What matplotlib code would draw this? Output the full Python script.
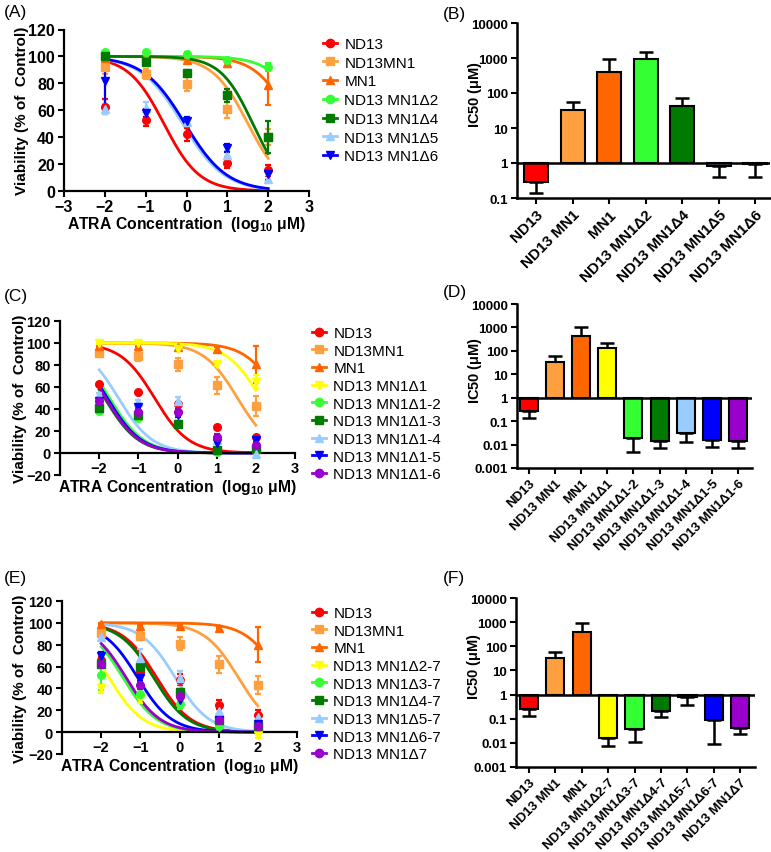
import matplotlib
matplotlib.use("Agg")
import matplotlib.pyplot as plt
from matplotlib.lines import Line2D
import numpy as np

plt.rcParams['font.family'] = ['Liberation Sans', 'DejaVu Sans']
plt.rcParams['mathtext.fontset'] = 'custom'
plt.rcParams['mathtext.rm'] = 'Liberation Sans'
plt.rcParams['mathtext.bf'] = 'Liberation Sans:bold'

W, H = 771, 853

# log10 of ATRA concentration (uM)
conc_log = [-2, -1, 0, 1, 2]

RED = '#FF0000'
LORANGE = '#FFA040'
ORANGE = '#FF6600'
LIME = '#33FF33'
DGREEN = '#007A00'
LBLUE = '#99CCFF'
BLUE = '#0000FF'
YELLOW = '#FFFF00'
PURPLE = '#9900CC'

# ---- panel A / B ----
a_legend = ['ND13', 'ND13MN1', 'MN1', 'ND13 MN1Δ2', 'ND13 MN1Δ4', 'ND13 MN1Δ5', 'ND13 MN1Δ6']
b_labels = ['ND13', 'ND13 MN1', 'MN1', 'ND13 MN1Δ2', 'ND13 MN1Δ4', 'ND13 MN1Δ5', 'ND13 MN1Δ6']
a_colors = [RED, LORANGE, ORANGE, LIME, DGREEN, LBLUE, BLUE]
a_markers = ['o', 's', '^', 'o', 's', '^', 'v']
b_ic50 = [0.28, 32, 394, 920, 42, 0.80, 0.92]
b_err_end = [0.138, 56, 910, 1510, 71, 0.40, 0.41]
a_hill = [1, 1, 1, 1, 1.1, 0.85, 0.85]
a_mean = [[62.5, 53, 42, 21, 15.5],
          [92, 87, 79.5, 61, 40],
          [99, 99, 97, 95, 79],
          [103, 103, 102, 97, 92],
          [100, 95.5, 88, 71, 40],
          [61, 62, 51, 27, 9],
          [82, 58, 52, 32, 12.5]]
a_sem = [[5.5, 5, 4.5, 4, 4],
         [5, 4, 5, 7, 6],
         [2, 1, 2, 3, 15],
         [1, 1, 1, 2, 3],
         [1, 2, 2, 5, 12],
         [4, 4, 3, 3, 3],
         [18, 3, 3, 3, 4]]

# ---- panel C / D ----
c_legend = ['ND13', 'ND13MN1', 'MN1', 'ND13 MN1Δ1', 'ND13 MN1Δ1-2', 'ND13 MN1Δ1-3',
            'ND13 MN1Δ1-4', 'ND13 MN1Δ1-5', 'ND13 MN1Δ1-6']
d_labels = ['ND13', 'ND13 MN1', 'MN1', 'ND13 MN1Δ1', 'ND13 MN1Δ1-2', 'ND13 MN1Δ1-3',
            'ND13 MN1Δ1-4', 'ND13 MN1Δ1-5', 'ND13 MN1Δ1-6']
c_colors = [RED, LORANGE, ORANGE, YELLOW, LIME, DGREEN, LBLUE, BLUE, PURPLE]
c_markers = ['o', 's', '^', 'v', 'o', 's', '^', 'v', 'o']
d_ic50 = [0.26, 34, 413, 132, 0.0184, 0.0137, 0.031, 0.0161, 0.0146]
d_err_end = [0.13, 62, 1000, 209, 0.005, 0.0069, 0.0124, 0.0076, 0.0074]
c_hill = [1, 1, 1, 1, 1, 1, 1, 1, 1]
c_mean = [[62.5, 55.5, 45, 23.4, 14.4],
          [91, 88, 80.5, 61.5, 43],
          [97, 97, 96, 94.6, 80.5],
          [100, 100, 94.6, 81, 65],
          [38.4, 32, 26, 1, 4],
          [41, 35, 26.4, 2.4, 4],
          [53, 46, 47, 11.4, -0.6],
          [47, 42, 35, 9, 12],
          [47, 37.5, 37, 14.4, 7]]
c_sem = [[1, 1, 1, 1, 1],
         [3, 4, 6, 8, 9],
         [1, 1, 1, 2, 16.5],
         [1, 1, 2, 2, 6],
         [2, 2, 2, 1, 1],
         [2, 2, 3, 1, 1],
         [2, 2, 4, 2, 1],
         [2, 2, 2, 4, 2],
         [3, 3, 3, 3, 2]]

# ---- panel E / F ----
e_legend = ['ND13', 'ND13MN1', 'MN1', 'ND13 MN1Δ2-7', 'ND13 MN1Δ3-7', 'ND13 MN1Δ4-7',
            'ND13 MN1Δ5-7', 'ND13 MN1Δ6-7', 'ND13 MN1Δ7']
f_labels = ['ND13', 'ND13 MN1', 'MN1', 'ND13 MN1Δ2-7', 'ND13 MN1Δ3-7', 'ND13 MN1Δ4-7',
            'ND13 MN1Δ5-7', 'ND13 MN1Δ6-7', 'ND13 MN1Δ7']
e_colors = [RED, LORANGE, ORANGE, YELLOW, LIME, DGREEN, LBLUE, BLUE, PURPLE]
e_markers = ['o', 's', '^', 'v', 'o', 's', '^', 'v', 'o']
f_ic50 = [0.26, 31.7, 377, 0.0158, 0.0358, 0.218, 0.776, 0.085, 0.043]
f_err_end = [0.135, 56, 914, 0.0071, 0.0107, 0.123, 0.386, 0.0086, 0.0237]
e_hill = [1, 1, 1, 1, 1, 1, 1, 1, 1]
e_mean = [[66, 55, 48, 25, 16],
          [91, 88, 81, 62, 43],
          [99, 97, 97, 95, 80],
          [40, 30, 28, 5, -3],
          [52, 35, 26, 6, 4.5],
          [62.5, 60, 36.6, 10.7, 6],
          [87, 68, 50, 19, 14],
          [70, 50, 29, 11, 7.6],
          [62.5, 42.7, 33.5, 11.3, 6]]
e_sem = [[3, 3, 5, 4, 4],
         [3, 4, 6, 8, 8],
         [1, 1, 1, 1, 16],
         [4, 3, 3, 2, 2],
         [13, 5, 5, 3, 2],
         [3, 4, 3, 3, 2],
         [3, 8, 6, 5, 3],
         [3, 3, 3, 3, 2],
         [3, 3, 3, 3, 2]]


def px_rect(l, t, r, b):
    return [l / W, 1 - b / H, (r - l) / W, (b - t) / H]


def dose_panel(fig, rect, means, sems, ic50, hill, colors, markers, legend, leg_xy,
               ymin, xticks, ylab_x, xlab_y, leg_spacing, xpad, tsize):
    ax = fig.add_axes(rect)
    xs = np.linspace(-2, 2, 200)
    for m, s, ic, h, c, mk in zip(means, sems, ic50, hill, colors, markers):
        ax.plot(xs, 100 / (1 + 10 ** ((xs - np.log10(ic)) * h)), color=c, lw=2, zorder=2)
        ax.errorbar(conc_log, m, yerr=s, fmt=mk, color=c, ms=5.5, capsize=2.5,
                    elinewidth=1.6, capthick=1.6, zorder=3)
    ax.set_xlim(-3, 3)
    ax.set_ylim(ymin, 120)
    for sp in ['top', 'right']:
        ax.spines[sp].set_visible(False)
    ax.spines['bottom'].set_position(('data', 0))
    for sp in ['left', 'bottom']:
        ax.spines[sp].set_linewidth(1.6)
    ax.set_xticks(xticks)
    ax.set_yticks(range(ymin, 121, 20))
    ax.tick_params(width=1.5, length=4, labelsize=tsize, pad=2.5)
    ax.tick_params(axis='x', pad=xpad)
    for t in ax.get_xticklabels() + ax.get_yticklabels():
        t.set_fontweight('bold')
    ax.set_ylabel('Viability (% of  Control)', fontsize=11, fontweight='bold')
    ax.yaxis.set_label_coords(ylab_x, 0.5)
    ax.set_xlabel(r'ATRA Concentration  (log$_{\bf 10}$ $\bf\mu$M)', fontsize=11.3, fontweight='bold')
    ax.xaxis.set_label_coords(0.5, xlab_y)
    handles = [Line2D([0], [0], color=c, marker=mk, ms=6, lw=2) for c, mk in zip(colors, markers)]
    fig.legend(handles, legend, loc='upper left', bbox_to_anchor=(leg_xy[0] / W, 1 - leg_xy[1] / H),
               frameon=False, fontsize=11, handlelength=0.9, handletextpad=0.5,
               labelspacing=leg_spacing, borderpad=0, borderaxespad=0)
    return ax


def bar_panel(fig, rect, values, err_end, colors, labels, ymin, xlim, width, ylab_x, xsize):
    ax = fig.add_axes(rect)
    ax.set_yscale('log')
    xs = np.arange(len(values))
    for i, (v, e, c) in enumerate(zip(values, err_end, colors)):
        if v >= 1:
            yerr = [[0], [e - v]]
        else:
            yerr = [[v - e], [0]]
        ax.errorbar(i, v, yerr=yerr, color='k', capsize=5, elinewidth=1.8, capthick=1.8, zorder=1)
    ax.bar(xs, np.array(values) - 1, bottom=1, width=width, color=colors,
           edgecolor='k', linewidth=1.5, zorder=2)
    ax.axhline(1, color='k', lw=1.8, zorder=3)
    ax.set_xlim(*xlim)
    ax.set_ylim(ymin, 10000)
    for sp in ['top', 'right']:
        ax.spines[sp].set_visible(False)
    for sp in ['left', 'bottom']:
        ax.spines[sp].set_linewidth(1.8)
    decades = [10.0 ** k for k in range(int(round(np.log10(ymin))), 5)]
    ax.set_yticks(decades)
    ax.set_yticklabels([('%g' % d) for d in decades])
    ax.yaxis.set_minor_locator(matplotlib.ticker.NullLocator())
    ax.set_xticks(xs)
    ax.set_xticklabels(labels, rotation=45, ha='right', rotation_mode='anchor')
    ax.tick_params(width=1.5, length=4, labelsize=9.5, pad=2.5)
    ax.tick_params(axis='x', labelsize=xsize)
    for t in ax.get_xticklabels() + ax.get_yticklabels():
        t.set_fontweight('bold')
    ax.set_ylabel(r'IC50 ($\bf\mu$M)', fontsize=10.5, fontweight='bold')
    ax.yaxis.set_label_coords(ylab_x, 0.6)
    return ax


fig = plt.figure(figsize=(W / 100, H / 100), dpi=100)

dose_panel(fig, px_rect(64, 30.5, 309, 192), a_mean, a_sem, b_ic50, a_hill, a_colors, a_markers,
           a_legend, (323, 38), 0, [-3, -2, -1, 0, 1, 2, 3], -0.143, -0.145, 0.31, 1.5, 11.5)
dose_panel(fig, px_rect(60, 322, 295, 476), c_mean, c_sem, d_ic50, c_hill, c_colors, c_markers,
           c_legend, (312, 327), -20, [-2, -1, 0, 1, 2, 3], -0.14, -0.012, 0.24, 1.5, 10.5)
dose_panel(fig, px_rect(62, 602, 297, 755), e_mean, e_sem, f_ic50, e_hill, e_colors, e_markers,
           e_legend, (312, 607), -20, [-2, -1, 0, 1, 2, 3], -0.149, -0.015, 0.24, 1.5, 10.5)

bar_panel(fig, px_rect(517, 24, 770, 199), b_ic50, b_err_end, a_colors, b_labels, 0.1,
          (-0.52, 6.4), 0.66, -0.132, 11)
bar_panel(fig, px_rect(517, 305, 752, 469), d_ic50, d_err_end, c_colors, d_labels, 0.001,
          (-0.46, 8.54), 0.69, -0.142, 9.5)
bar_panel(fig, px_rect(516, 599, 755, 768), f_ic50, f_err_end, e_colors, f_labels, 0.001,
          (-0.49, 8.56), 0.69, -0.136, 9.5)

for lab, x, y in [('(A)', 4, 13), ('(B)', 443, 15), ('(C)', 4, 297), ('(D)', 443, 292),
                  ('(E)', 4, 578), ('(F)', 443, 578)]:
    fig.text(x / W, 1 - y / H, lab, fontsize=12.5, va='center', ha='left')

fig.savefig('out.png', dpi=100)
